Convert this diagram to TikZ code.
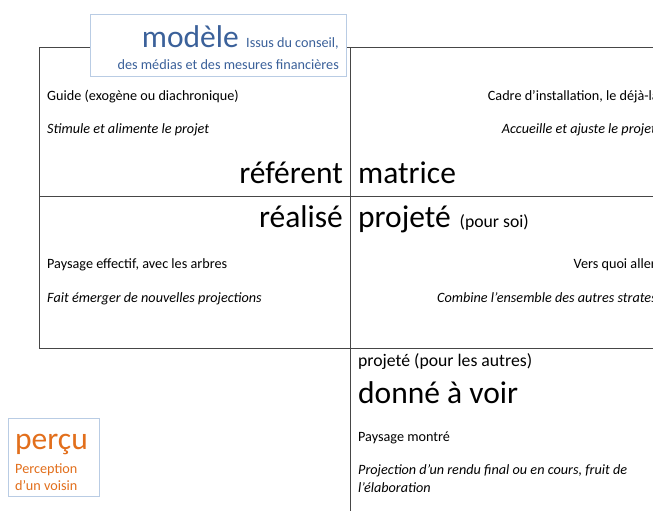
\documentclass[tikz,border=0pt]{standalone}
\usepackage{fontspec}
\setmainfont{Carlito}
\definecolor{gridline}{HTML}{464646}
\definecolor{modblue}{HTML}{3B619A}
\definecolor{boxblue}{HTML}{B9CCE4}
\definecolor{percorange}{HTML}{E26F1C}
\begin{document}
\begin{tikzpicture}[x=1pt,y=-1pt,
  grid/.style={draw=gridline,line width=1pt},
  small/.style={inner sep=0pt,font=\fontsize{14.2}{17}\selectfont},
  smallit/.style={inner sep=0pt,font=\fontsize{14.2}{17}\selectfont\itshape},
  big/.style={inner sep=0pt,font=\fontsize{31.5}{36}\selectfont},
  medium/.style={inner sep=0pt,font=\fontsize{17.7}{21}\selectfont},
  legendbox/.style={draw=boxblue,fill=white,line width=0.8pt}]
\useasboundingbox (0,0) rectangle (653,511);
\clip (0,0) rectangle (653,511);
% grid
\coordinate (tl) at (39,48);
\coordinate (tr) at (660,48);
\coordinate (tm) at (350,48);
\coordinate (bm) at (350,520);
\coordinate (ml) at (39,196);
\coordinate (mr) at (660,196);
\coordinate (ll) at (39,348);
\coordinate (lr) at (660,348);
\draw[grid] (tr) -- (tl) -- (ll) -- (lr);
\draw[grid] (tm) -- (bm);
\draw[grid] (ml) -- (mr);
% modele box
\draw[legendbox] (90.5,14.5) rectangle (346,76);
\node[big,anchor=base east,text=modblue] (modele) at (239,48) {modèle};
\node[small,anchor=base west,text=modblue] (issus) at (246,48) {Issus du conseil,};
\node[small,anchor=base east,text=modblue] (medias) at (339,70) {des médias et des mesures financières};
% top left
\node[small,anchor=base west] (guide) at (47,100) {Guide (exogène ou diachronique)};
\node[smallit,anchor=base west] (stimule) at (47,133) {Stimule et alimente le projet};
\node[big,anchor=base east] (referent) at (343,183) {référent};
% top right
\node[small,anchor=base east] (cadre) at (659,100) {Cadre d’installation, le déjà-là};
\node[smallit,anchor=base east] (accueille) at (656,133) {Accueille et ajuste le projet};
\node[big,anchor=base west] (matrice) at (358,183) {matrice};
% middle left
\node[big,anchor=base east] (realise) at (343,227) {réalisé};
\node[small,anchor=base west] (paysage) at (47,268) {Paysage effectif, avec les arbres};
\node[smallit,anchor=base west] (fait) at (47,302) {Fait émerger de nouvelles projections};
% middle right
\node[big,anchor=base west] (projete) at (358,227) {projeté};
\node[medium,anchor=base west] (poursoi) at ([xshift=8.5pt]projete.base east) {(pour soi)};
\node[small,anchor=base east] (vers) at (656,268) {Vers quoi aller};
\node[smallit,anchor=base east] (combine) at (657,302) {Combine l’ensemble des autres strates};
% bottom right
\node[medium,anchor=base west] (autres) at (358,366) {projeté (pour les autres)};
\node[big,anchor=base west] (donne) at (358,403) {donné à voir};
\node[small,anchor=base west] (montre) at (358,441) {Paysage montré};
\node[smallit,anchor=base west] (proj1) at (358,474) {Projection d’un rendu final ou en cours, fruit de};
\node[smallit,anchor=base west] (proj2) at (358,492) {l’élaboration};
% percu box
\draw[legendbox] (8.5,418.5) rectangle (99,496);
\node[big,anchor=base west,text=percorange] (percu) at (15,449) {perçu};
\node[small,anchor=base west,text=percorange] (perception) at (15,473) {Perception};
\node[small,anchor=base west,text=percorange] (voisin) at (15,490) {d’un voisin};
\end{tikzpicture}
\end{document}
